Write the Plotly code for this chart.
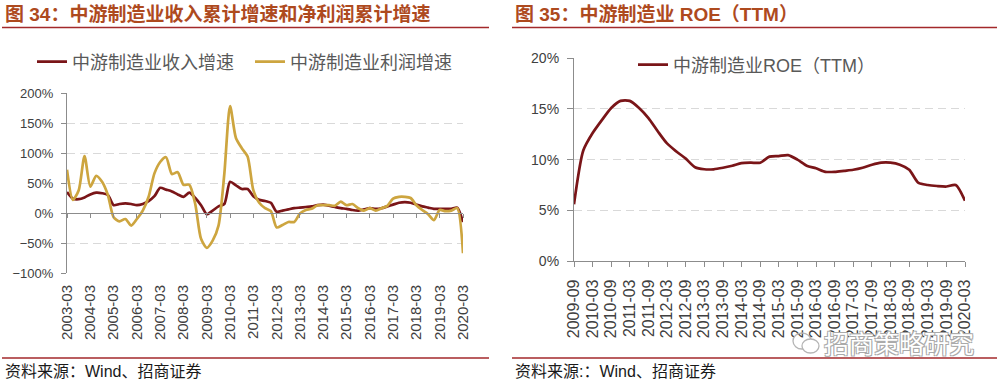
import pandas as pd
import plotly.graph_objects as go

# ---------------- data ----------------
quarters_left = pd.date_range('2003-03-01', '2020-03-01', freq='3MS')
revenue_growth = [35, 24, 23, 26, 31, 34, 33, 30, 13, 15,
                  16, 15, 13, 15, 20, 28, 42, 39, 36, 31,
                  27, 34, 25, 13, -2, 4, 11, 15, 52, 46,
                  40, 40, 28, 22, 20, 17, 2, 4, 6, 8,
                  9, 10, 11, 13, 14, 12, 10, 8, 7, 5,
                  4, 6, 8, 7, 8, 11, 14, 17, 18, 17,
                  14, 11, 9, 7, 7, 7, 7, 9, -15]
profit_growth = [72, 22, 38, 95, 44, 62, 52, 30, -7, -14,
                 -10, -21, -10, 4, 27, 66, 85, 93, 65, 68,
                 47, 47, 15, -43, -58, -46, -21, 65, 178, 125,
                 108, 94, 38, 17, 8, 3, -24, -20, -15, -15,
                 -1, 5, 7, 13, 13, 13, 12, 19, 13, 15,
                 8, 4, 8, 4, 8, 12, 24, 27, 27, 25,
                 13, 5, -2, -12, 5, 3, 4, 8, -67]

quarters_right = pd.date_range('2009-09-01', '2020-03-01', freq='3MS')
roe_ttm = [5.6, 10.9, 12.6, 13.9, 15.1, 15.8, 15.8, 15.1, 14.1, 12.8,
           11.6, 10.8, 10.1, 9.25, 9.05, 9.05, 9.2, 9.4, 9.65, 9.7,
           9.7, 10.3, 10.35, 10.45, 10.0, 9.4, 9.15, 8.8, 8.8, 8.9,
           9.0, 9.2, 9.5, 9.7, 9.7, 9.5, 9.0, 7.7, 7.5, 7.4,
           7.35, 7.5, 5.95]

title_left = '图 34：中游制造业收入累计增速和净利润累计增速'
title_right = '图 35：中游制造业 ROE（TTM）'
source_left = '资料来源：Wind、招商证券'
source_right = '资料来源:：Wind、招商证券'
name_revenue = '中游制造业收入增速'
name_profit = '中游制造业利润增速'
name_roe = '中游制造业ROE（TTM）'
watermark = '招商策略研究'

# ---------------- style ----------------
W, H = 1003, 385
MAROON = '#7A1518'
GOLD = '#CDA53F'
AXIS = '#8C8C8C'
GRID = '#D9D9D9'
RULE = '#A3292B'
TITLE_C = '#AE4A1E'
TXT = '#404040'
LAT = 'Liberation Sans, Arial, Noto Sans CJK SC'
CJK = 'Liberation Sans, Noto Sans CJK SC'


def px_x(x):
    return x / W


def px_y(y):
    return 1 - y / H


# left plot area (pixels)
L_X0, L_X1, L_Y0, L_Y1 = 67, 463, 93, 273
L_YMIN, L_YMAX = -100, 200
zero_pos = px_y(L_Y1 - (0 - L_YMIN) / (L_YMAX - L_YMIN) * (L_Y1 - L_Y0))
# right plot area (pixels)
R_X0, R_X1, R_Y0, R_Y1 = 574, 965, 58.3, 261

fig = go.Figure()
fig.add_trace(go.Scatter(x=quarters_left, y=revenue_growth, name=name_revenue,
                         mode='lines', xaxis='x', yaxis='y', legend='legend',
                         line=dict(color=MAROON, width=2.7, shape='spline', smoothing=0.7)))
fig.add_trace(go.Scatter(x=quarters_left, y=profit_growth, name=name_profit,
                         mode='lines', xaxis='x', yaxis='y', legend='legend',
                         line=dict(color=GOLD, width=2.7, shape='spline', smoothing=0.7)))
# helper (no visible mark) so the zero-line tick axis is drawn
fig.add_trace(go.Scatter(x=[quarters_left[0]], y=[None], xaxis='x2', yaxis='y',
                         showlegend=False, hoverinfo='skip', mode='lines'))
fig.add_trace(go.Scatter(x=quarters_right, y=roe_ttm, name=name_roe,
                         mode='lines', xaxis='x3', yaxis='y3', legend='legend2',
                         line=dict(color=MAROON, width=2.7, shape='spline', smoothing=0.7)))

common_y = dict(showline=True, linecolor=AXIS, linewidth=1.2, ticks='outside',
                tickcolor=AXIS, tickwidth=1.2, showgrid=True, gridcolor=GRID,
                gridwidth=1.3, griddash='8px,5px', zeroline=False, ticksuffix='%',
                automargin=False)

fig.update_layout(
    width=W, height=H, margin=dict(l=0, r=0, t=0, b=0, autoexpand=False),
    paper_bgcolor='white', plot_bgcolor='white',
    xaxis=dict(domain=[px_x(L_X0), px_x(L_X1)], anchor='y', type='date',
               range=[quarters_left[0], quarters_left[-1]],
               showline=False, ticks='', showgrid=False, zeroline=False, automargin=False,
               tickformat='%Y-%m', dtick='M12', tick0='2003-03-01', tickangle=-90,
               tickfont=dict(family=LAT, size=15, color=TXT), ticklabelstandoff=8),
    xaxis2=dict(overlaying='x', anchor='free', position=zero_pos, type='date',
                range=[quarters_left[0], quarters_left[-1]], automargin=False,
                showline=True, linecolor=AXIS, linewidth=1.2, ticks='outside', ticklen=4,
                tickcolor=AXIS, tickwidth=1.2, dtick='M12', tick0='2003-03-01',
                showticklabels=False, showgrid=False, zeroline=False),
    yaxis=dict(domain=[px_y(L_Y1), px_y(L_Y0)], anchor='x', range=[L_YMIN, L_YMAX],
               dtick=50, ticklen=5, ticklabelstandoff=5,
               tickfont=dict(family=LAT, size=13, color=TXT), **common_y),
    xaxis3=dict(domain=[px_x(R_X0), px_x(R_X1)], anchor='y3', type='date',
                range=[quarters_right[0], quarters_right[-1]], automargin=False,
                showline=True, linecolor=AXIS, linewidth=1.2, ticks='outside', ticklen=5,
                tickcolor=AXIS, tickwidth=1.2, showgrid=False, zeroline=False,
                tickformat='%Y-%m', dtick='M6', tick0='2009-09-01', tickangle=-90,
                tickfont=dict(family=LAT, size=16, color=TXT), ticklabelstandoff=6),
    yaxis3=dict(domain=[px_y(R_Y1), px_y(R_Y0)], anchor='x3', range=[0, 20],
                dtick=5, ticklen=6, ticklabelstandoff=5,
                tickfont=dict(family=LAT, size=14, color=TXT), **common_y),
    legend=dict(orientation='h', x=px_x(32), y=px_y(62), xanchor='left', yanchor='middle',
                font=dict(family=CJK, size=18, color='#595959'),
                bgcolor='rgba(0,0,0,0)', entrywidth=173, itemwidth=30),
    legend2=dict(orientation='h', x=px_x(633), y=px_y(65), xanchor='left', yanchor='middle',
                 font=dict(family=CJK, size=18, color='#595959'),
                 bgcolor='white', itemwidth=30),
)

shapes = []
for x0, x1 in [(2, 489), (512, 997)]:
    for yy in (27.5, 358):
        shapes.append(dict(type='line', xref='paper', yref='paper',
                           x0=px_x(x0), x1=px_x(x1), y0=px_y(yy), y1=px_y(yy),
                           line=dict(color=RULE, width=1.6)))
# watermark chat-bubble icon
shapes.append(dict(type='circle', xref='paper', yref='paper',
                   x0=px_x(793), x1=px_x(811), y0=px_y(349), y1=px_y(333),
                   line=dict(color='#B5B5B5', width=1.3)))
shapes.append(dict(type='circle', xref='paper', yref='paper',
                   x0=px_x(802), x1=px_x(819), y0=px_y(353), y1=px_y(339),
                   fillcolor='white', line=dict(color='#B5B5B5', width=1.3)))
fig.update_layout(shapes=shapes)

ann = []
ann.append(dict(text=title_left, x=px_x(3), y=px_y(14), xref='paper', yref='paper',
                xanchor='left', yanchor='middle', showarrow=False,
                font=dict(family=CJK, size=19, color=TITLE_C, weight='bold')))
ann.append(dict(text=title_right, x=px_x(513), y=px_y(14), xref='paper', yref='paper',
                xanchor='left', yanchor='middle', showarrow=False,
                font=dict(family=CJK, size=19, color=TITLE_C, weight='bold')))
ann.append(dict(text=source_left, x=px_x(3), y=px_y(371), xref='paper', yref='paper',
                xanchor='left', yanchor='middle', showarrow=False,
                font=dict(family=CJK, size=16, color='#1A1A1A')))
ann.append(dict(text=source_right, x=px_x(513), y=px_y(371), xref='paper', yref='paper',
                xanchor='left', yanchor='middle', showarrow=False,
                font=dict(family=CJK, size=16, color='#1A1A1A')))
ann.append(dict(text=watermark, x=px_x(822), y=px_y(342), xref='paper', yref='paper',
                xanchor='left', yanchor='middle', showarrow=False,
                font=dict(family='Noto Sans CJK SC', size=25, color='white',
                          shadow='1px 1px 0 #AAAAAA, -1px -1px 0 #AAAAAA, 1px -1px 0 #AAAAAA, -1px 1px 0 #AAAAAA')))
fig.update_layout(annotations=ann)

fig.write_html('out.html', config={'displayModeBar': False},
               post_script="document.body.style.margin='0px';")
